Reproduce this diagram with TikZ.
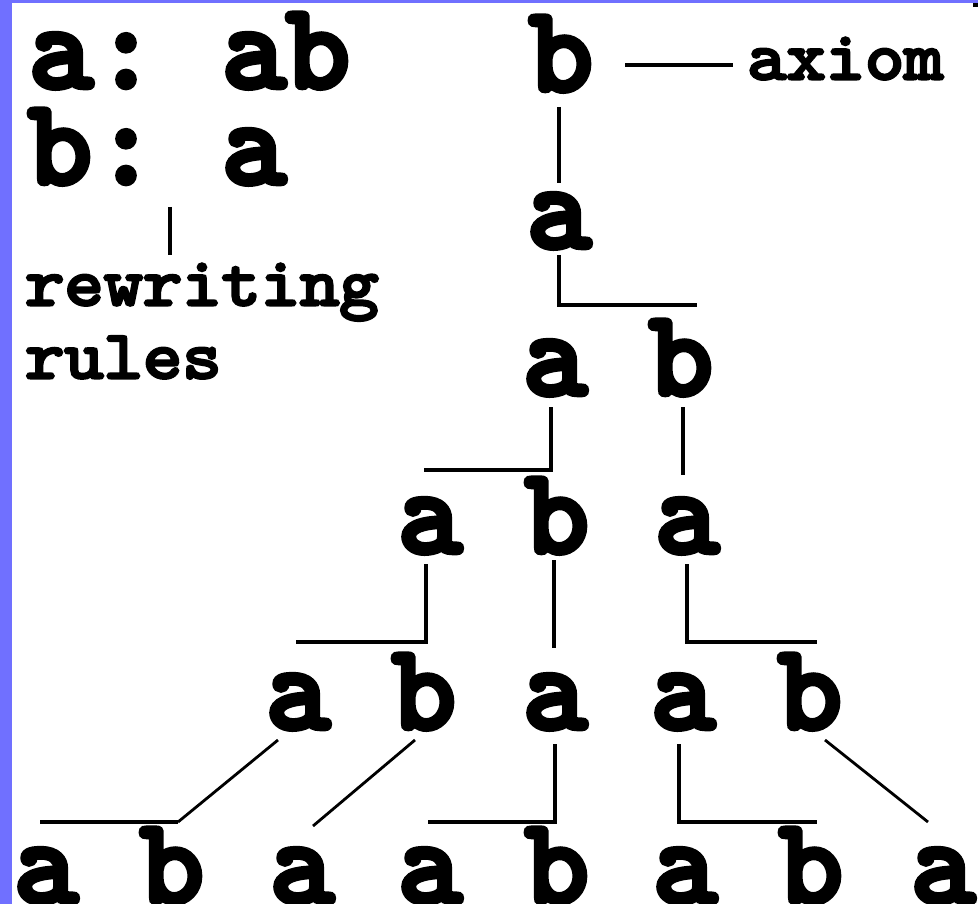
\documentclass[tikz,border=0pt]{standalone}
\usepackage{fontspec}
\newfontfamily\lsysheavy[FakeBold=5.5]{lmmono10-regular.otf}
\newfontfamily\lsyssmall[FakeBold=4.5,FakeStretch=1.1]{lmmono10-regular.otf}
\definecolor{frameblue}{RGB}{112,112,255}
\tikzset{
  big/.style={font=\lsysheavy\fontsize{120}{122}\selectfont, inner sep=0pt, anchor=base},
  small/.style={font=\lsyssmall\fontsize{68}{70}\selectfont, inner sep=0pt, anchor=base west},
  ln/.style={line width=4pt, line join=miter},
  dg/.style={line width=2.8pt}
}
\begin{document}
\begin{tikzpicture}[x=1pt,y=-1pt]
\useasboundingbox (0,0) rectangle (978,904);
\fill[white] (0,0) rectangle (978,904);
\fill[frameblue] (0,0) rectangle (978,3);
\fill[frameblue] (0,0) rectangle (12,904);
\fill[black] (973,3) rectangle (978,7);

% rules
\node[big] (r1a) at (61,87) {a};
\node[big] (r1c) at (126,87) {:};
\node[big] (r1x) at (254,87) {a};
\node[big] (r1y) at (318,87) {b};
\node[big] (r2b) at (60,183) {b};
\node[big] (r2c) at (126,183) {:};
\node[big] (r2x) at (254,183) {a};
\node[small] (rew) at (25,305) {rewriting};
\node[small] (rul) at (25,378) {rules};
\node[small] (axi) at (747,79) {axiom};

% tree
\node[big] (n0) at (561,90) {b};
\node[big] (n1) at (559,247) {a};
\node[big] (n2a) at (555,394) {a};
\node[big] (n2b) at (681,394) {b};
\node[big] (n3a) at (430,552) {a};
\node[big] (n3b) at (557,552) {b};
\node[big] (n3c) at (687,552) {a};
\node[big] (n4a) at (298,728) {a};
\node[big] (n4b) at (424,728) {b};
\node[big] (n4c) at (555,728) {a};
\node[big] (n4d) at (683,728) {a};
\node[big] (n4e) at (810,728) {b};
\node[big] (n5a) at (46,902) {a};
\node[big] (n5b) at (172,902) {b};
\node[big] (n5c) at (302,902) {a};
\node[big] (n5d) at (430,902) {a};
\node[big] (n5e) at (557,902) {b};
\node[big] (n5f) at (685,902) {a};
\node[big] (n5g) at (811,902) {b};
\node[big] (n5h) at (943,902) {a};

% connector end points
\coordinate (axL) at (625,65);   \coordinate (axR) at (733,65);
\coordinate (ruT) at (170,207);  \coordinate (ruB) at (170,255);
\coordinate (c0a) at (559,107);  \coordinate (c0b) at (559,183);
\coordinate (c1a) at (559,255);  \coordinate (c1b) at (559,305); \coordinate (c1c) at (697,305);
\coordinate (c2a) at (551,407);  \coordinate (c2b) at (551,470); \coordinate (c2c) at (424,470);
\coordinate (c3a) at (683,407);  \coordinate (c3b) at (683,475);
\coordinate (c4a) at (426,564);  \coordinate (c4b) at (426,642); \coordinate (c4c) at (296,642);
\coordinate (c5a) at (554,560);  \coordinate (c5b) at (554,648);
\coordinate (c6a) at (687,564);  \coordinate (c6b) at (687,642); \coordinate (c6c) at (817,642);
\coordinate (c7a) at (278,740);  \coordinate (c7b) at (178,822); \coordinate (c7c) at (40,822);
\coordinate (c8a) at (415,740);  \coordinate (c8b) at (313,826);
\coordinate (c9a) at (555,744);  \coordinate (c9b) at (555,822); \coordinate (c9c) at (428,822);
\coordinate (cAa) at (679,744);  \coordinate (cAb) at (679,822); \coordinate (cAc) at (817,822);
\coordinate (cBa) at (825,740);  \coordinate (cBb) at (928,822);

\draw[ln] (axL) -- (axR);
\draw[ln] (ruT) -- (ruB);
\draw[ln] (c0a) -- (c0b);
\draw[ln] (c1a) -- (c1b) -- (c1c);
\draw[ln] (c2a) -- (c2b) -- (c2c);
\draw[ln] (c3a) -- (c3b);
\draw[ln] (c4a) -- (c4b) -- (c4c);
\draw[ln] (c5a) -- (c5b);
\draw[ln] (c6a) -- (c6b) -- (c6c);
\draw[dg] (c7a) -- (c7b);
\draw[ln] (c7b) -- (c7c);
\draw[dg] (c8a) -- (c8b);
\draw[ln] (c9a) -- (c9b) -- (c9c);
\draw[ln] (cAa) -- (cAb) -- (cAc);
\draw[dg] (cBa) -- (cBb);
\end{tikzpicture}
\end{document}
